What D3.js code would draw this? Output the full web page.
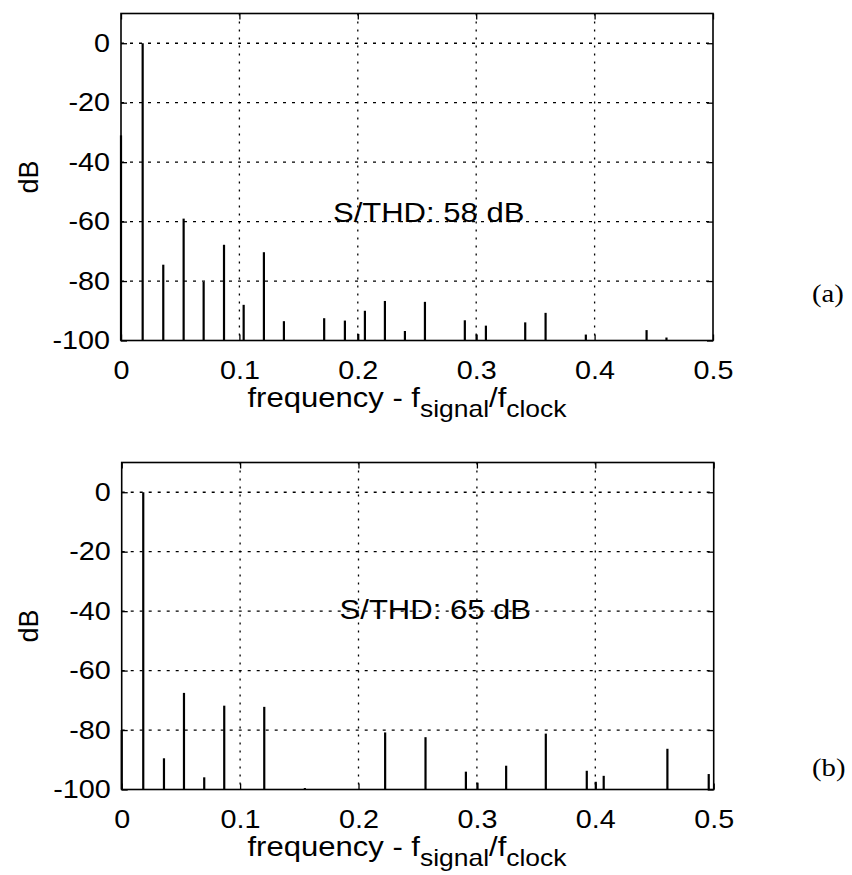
<!DOCTYPE html>
<html>
<head>
<meta charset="utf-8">
<script src="https://cdn.jsdelivr.net/npm/d3@7"></script>
<style>
  body { margin: 0; background: #fff; }
  svg text { font-family: "Liberation Sans", Arial, Helvetica, sans-serif; fill: #000; }
</style>
</head>
<body>
<div id="chart"></div>
<script>
// spectrum (a): frequency (f_signal/f_clock) and level in dB
const freqA = [0, 0.0183, 0.0357, 0.0529, 0.0698, 0.0870, 0.1036, 0.1207, 0.1376, 0.1716,
  0.1891, 0.2004, 0.2060, 0.2229, 0.2398, 0.2567, 0.2904, 0.3003, 0.3082, 0.3414,
  0.3586, 0.3926, 0.4439, 0.4607];
const dbA = [-31, 0, -74.5, -59, -80.3, -67.8, -88, -70.3, -93.5, -92.5,
  -93.3, -97.8, -90, -86.7, -96.8, -87, -93.2, -98, -95, -93.9,
  -90.7, -98, -96.5, -99];

// spectrum (b)
const freqB = [0, 0.0182, 0.0357, 0.0526, 0.0697, 0.0866, 0.1204, 0.1547, 0.2225, 0.2566,
  0.2907, 0.3005, 0.3247, 0.3582, 0.3928, 0.4004, 0.4071, 0.4609, 0.4958];
const dbB = [-80, 0, -89.5, -67.5, -95.9, -71.8, -72.2, -99.5, -80.8, -82.4,
  -94, -97.7, -92, -81.2, -93.7, -97.4, -95.4, -86.3, -94.8];

const xTicks = [0, 0.1, 0.2, 0.3, 0.4, 0.5];
const yTicks = [-100, -80, -60, -40, -20, 0];
const notes = ["S/THD: 58 dB", "S/THD: 65 dB"];
const tags = ["(a)", "(b)"];

const W = 852, H = 875;
const SX = 1.15; // scanned text is a bit wider than tall

const svg = d3.select("#chart").append("svg")
  .attr("width", W).attr("height", H);

function drawPanel(left, top, freqs, dbs, note, noteX, noteY, tag, tagY) {
  const w = 592, h = 327;
  const g = svg.append("g").attr("transform", `translate(${left},${top})`);

  const x = d3.scaleLinear().domain([0, 0.5]).range([0, w]);
  const y = d3.scaleLinear().domain([-100, 10]).range([h, 0]);

  // grid
  g.selectAll(".gx").data(xTicks.slice(1, -1)).join("line")
    .attr("x1", d => x(d)).attr("x2", d => x(d))
    .attr("y1", 0).attr("y2", h)
    .attr("stroke", "#000").attr("stroke-width", 1.3)
    .attr("stroke-dasharray", "2,6");
  g.selectAll(".gy").data(yTicks.slice(1)).join("line")
    .attr("x1", 0).attr("x2", w)
    .attr("y1", d => y(d)).attr("y2", d => y(d))
    .attr("stroke", "#000").attr("stroke-width", 1.3)
    .attr("stroke-dasharray", "3,6");

  // stems
  g.selectAll(".stem").data(freqs.map((f, i) => [f, dbs[i]])).join("line")
    .attr("x1", d => x(d[0])).attr("x2", d => x(d[0]))
    .attr("y1", y(-100)).attr("y2", d => y(d[1]))
    .attr("stroke", "#000").attr("stroke-width", 2.2);

  // axes, ticks pointing inward on every side
  const fmt = d => String(d);
  const ax = g.append("g").attr("transform", `translate(0,${h})`)
    .call(d3.axisBottom(x).tickValues(xTicks).tickFormat(fmt).tickSizeInner(-6).tickSizeOuter(0).tickPadding(21));
  const ay = g.append("g")
    .call(d3.axisLeft(y).tickValues(yTicks).tickFormat(fmt).tickSizeInner(-6).tickSizeOuter(0).tickPadding(9.5));
  g.append("g").call(d3.axisTop(x).tickValues(xTicks).tickFormat("").tickSizeInner(-6).tickSizeOuter(0));
  g.append("g").attr("transform", `translate(${w},0)`)
    .call(d3.axisRight(y).tickValues(yTicks).tickFormat("").tickSizeInner(-6).tickSizeOuter(0));
  g.selectAll(".domain").remove();
  g.selectAll(".tick line").attr("stroke", "#000").attr("stroke-width", 1.3);
  [ax, ay].forEach(a => a.selectAll("text")
    .style("font-size", "25px")
    .attr("transform", `scale(${SX},1)`));

  g.append("rect").attr("width", w).attr("height", h)
    .attr("fill", "none").attr("stroke", "#000").attr("stroke-width", 1.6);

  // y label
  g.append("text")
    .attr("transform", `translate(${29 - left},${h / 2}) rotate(-90)`)
    .attr("text-anchor", "middle").attr("dy", "0.35em")
    .style("font-size", "27px").text("dB");

  // x label with subscripts
  const xl = g.append("text")
    .attr("transform", `translate(${407 - left},${h + 66}) scale(${SX},1)`)
    .attr("text-anchor", "middle").style("font-size", "27px");
  xl.append("tspan").text("frequency - f");
  xl.append("tspan").attr("dy", 10).style("font-size", "23px").text("signal");
  xl.append("tspan").attr("dy", -10).text("/f");
  xl.append("tspan").attr("dy", 10).style("font-size", "23px").text("clock");

  // annotation
  g.append("text")
    .attr("transform", `translate(${x(noteX)},${y(noteY)}) scale(${SX},1)`)
    .style("font-size", "27px").text(note);

  // panel tag
  svg.append("text")
    .attr("transform", `translate(812,${tagY}) scale(${SX},1)`)
    .style("font-family", "'Liberation Serif', 'Times New Roman', serif")
    .style("font-size", "25px").text(tag);
}

drawPanel(121, 13.5, freqA, dbA, notes[0], 0.179, -60, tags[0], 302);
drawPanel(121.7, 462.5, freqB, dbB, notes[1], 0.184, -42.5, tags[1], 776);
</script>
</body>
</html>
